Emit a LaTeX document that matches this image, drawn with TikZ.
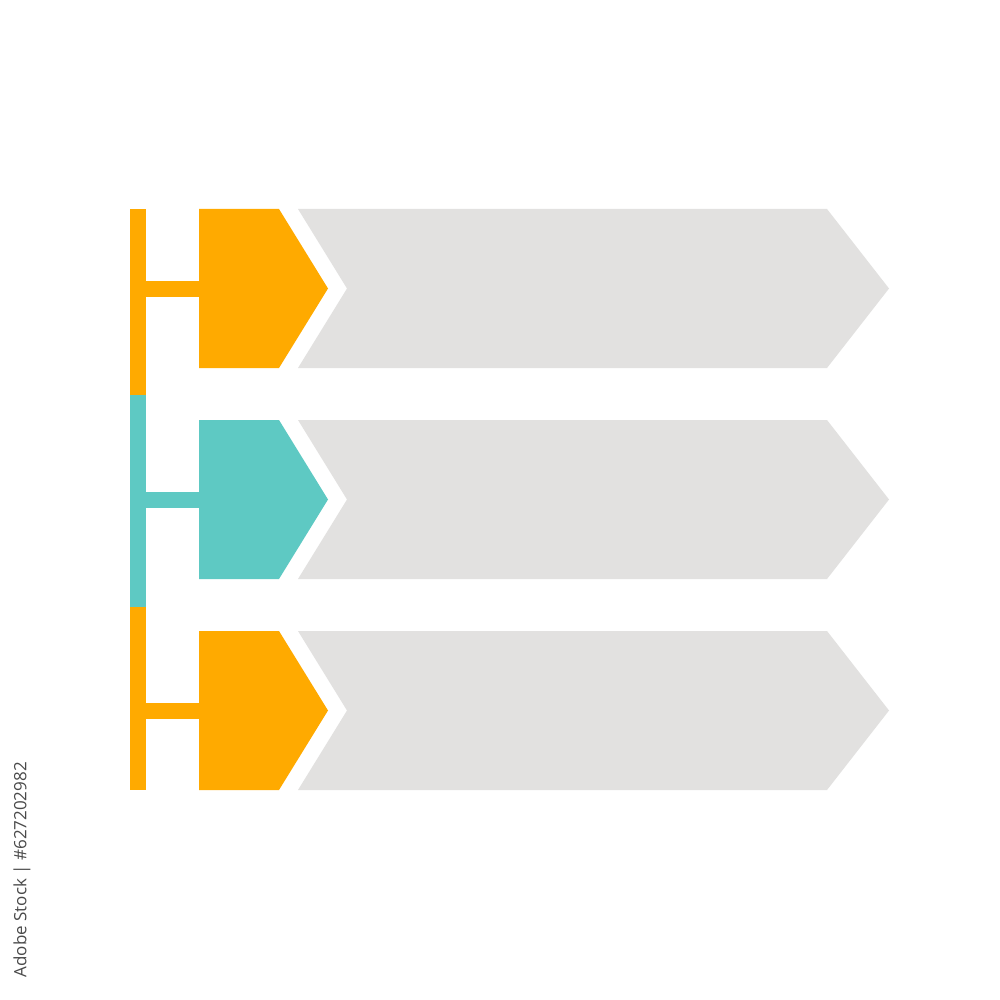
\documentclass[tikz,border=0pt]{standalone}
\usepackage{fontspec}
\newfontfamily\idfont{Open Sans}
\definecolor{orng}{HTML}{FFAA00}
\definecolor{teal2}{HTML}{5EC9C3}
\definecolor{grey2}{HTML}{E2E1E0}
\definecolor{idgrey}{HTML}{4A4A4A}
\begin{document}
\begin{tikzpicture}[x=1pt,y=-1pt,
  bar/.style={fill=#1,draw=none},
  tag/.style={fill=#1,draw=none},
  band/.style={fill=grey2,draw=none}]
\useasboundingbox (0,0) rectangle (1000,1000);
\clip (0,0) rectangle (1000,1000);
\fill[white] (0,0) rectangle (1000,1000);
% vertical spine
\fill[bar=orng] (130,209) rectangle (146,395);
\fill[bar=teal2] (130,395) rectangle (146,607);
\fill[bar=orng] (130,607) rectangle (146,790);
\foreach \c/\col in {288.5/orng,499.5/teal2,710.5/orng}{
  % stub
  \fill[bar=\col] (146,\c-8) rectangle (200,\c+8);
  % coloured tag
  \fill[tag=\col] (199,\c-79.5) -- (279,\c-79.5) -- (328,\c) -- (279,\c+79.5) -- (199,\c+79.5) -- cycle;
  % grey band
  \fill[band] (298,\c-79.5) -- (827,\c-79.5) -- (889,\c) -- (827,\c+79.5) -- (298,\c+79.5) -- (347,\c) -- cycle;
}
\node[rotate=90,anchor=east,inner sep=0pt,font=\idfont\fontsize{17}{20}\selectfont,text=idgrey] (id) at (22,762) {Adobe Stock | \#627202982};
\end{tikzpicture}
\end{document}
